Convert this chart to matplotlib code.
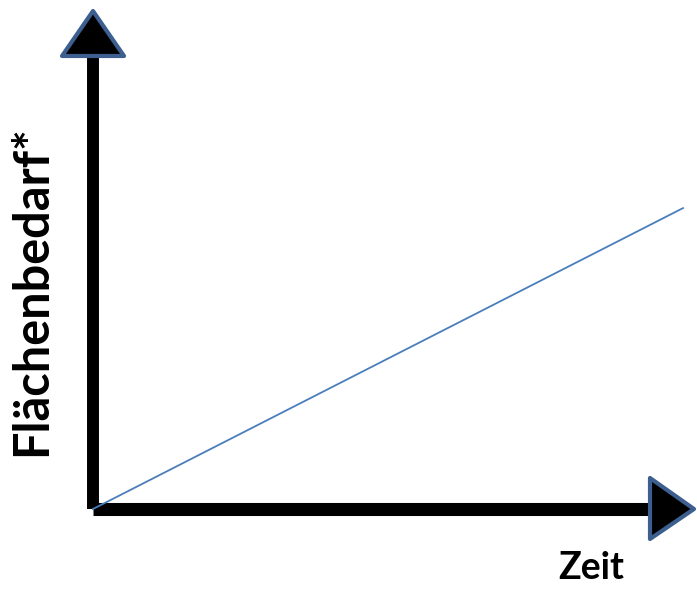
import matplotlib
matplotlib.use("Agg")
import matplotlib.pyplot as plt
from matplotlib.patches import Polygon

# Data (schematic: linear growth of area demand over time)
zeit = [0, 100]
flaechenbedarf = [0, 51]

x_label = "Zeit"
y_label = "Flächenbedarf*"

W, H = 697, 589
fig = plt.figure(figsize=(W / 100, H / 100), dpi=100)
ax = fig.add_axes([0, 0, 1, 1])
scale = 5.9  # pixels per data unit
ox, oy = 93, 80  # origin in pixels (from left, from bottom)
ax.set_xlim(-ox / scale, (W - ox) / scale)
ax.set_ylim(-oy / scale, (H - oy) / scale)
ax.axis("off")

def px(v):
    return v / scale

# thick black axes
ax.plot([0, 0], [0, px(H - 56 - oy)], color="black", lw=8.6, solid_capstyle="butt", zorder=2)
ax.plot([0, px(651 - ox)], [0, 0], color="black", lw=9.4, solid_capstyle="butt", zorder=2)

# arrow heads
edge = "#3c5f8f"
up = Polygon([[px(62 - ox), px(H - 56 - oy)], [px(124 - ox), px(H - 56 - oy)], [0, px(H - 11 - oy)]],
             closed=True, facecolor="black", edgecolor=edge, lw=3, joinstyle="round", zorder=3)
right = Polygon([[px(650 - ox), px(H - 478 - oy)], [px(650 - ox), px(H - 539 - oy)], [px(694 - ox), 0]],
                closed=True, facecolor="black", edgecolor=edge, lw=3, joinstyle="round", zorder=3)
ax.add_patch(up)
ax.add_patch(right)

# the data line
ax.plot(zeit, flaechenbedarf, color="#4a7ebb", lw=1.3, zorder=4)

# labels
ax.text(px(32 - ox), px(H - 291 - oy), y_label, rotation=90, ha="center", va="center",
        fontsize=35, fontweight="bold", family="Lato")
ax.text(px(591 - ox), px(H - 568 - oy), x_label, ha="center", va="center",
        fontsize=27, fontweight="bold", family="Lato")

fig.savefig("out.png", dpi=100)
